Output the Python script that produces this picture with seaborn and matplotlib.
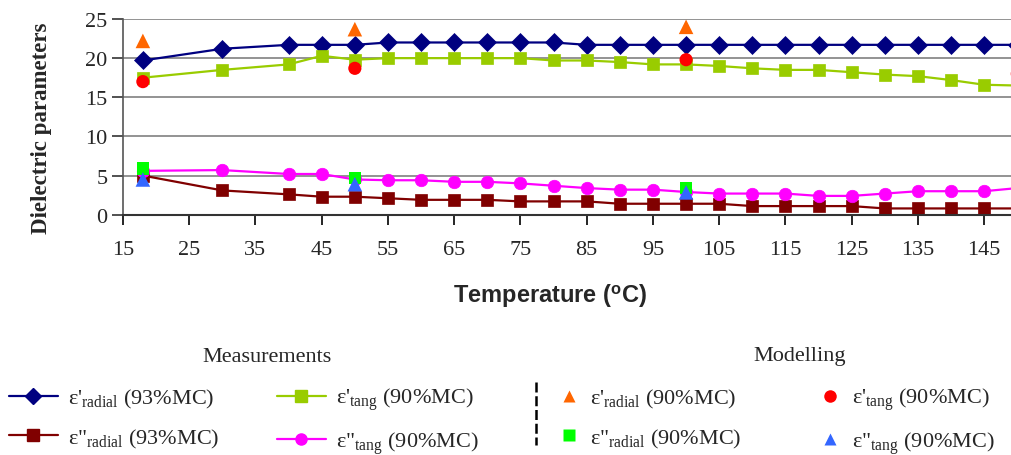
import matplotlib
matplotlib.use("Agg")
import matplotlib.pyplot as plt
from matplotlib.lines import Line2D
import seaborn as sns
import numpy as np

# ---------------- data ----------------
temps_meas = [18, 30, 40, 45, 50, 55, 60, 65, 70, 75, 80, 85, 90, 95, 100,
              105, 110, 115, 120, 125, 130, 135, 140, 145, 150]
eps1_radial_93 = [19.7, 21.2, 21.7, 21.7, 21.7, 22.0, 22.0, 22.0, 22.0, 22.0, 22.0, 21.7, 21.7,
                  21.7, 21.7, 21.7, 21.7, 21.7, 21.7, 21.7, 21.7, 21.7, 21.7, 21.7, 21.7]
eps1_tang_90 = [17.5, 18.5, 19.2, 20.3, 19.8, 20.0, 20.0, 20.0, 20.0, 20.0, 19.7, 19.7, 19.5,
                19.2, 19.2, 19.0, 18.7, 18.5, 18.5, 18.2, 17.9, 17.7, 17.2, 16.6, 16.5]
eps2_radial_93 = [5.0, 3.1, 2.6, 2.3, 2.3, 2.1, 1.9, 1.9, 1.9, 1.7, 1.7, 1.7, 1.4,
                  1.4, 1.4, 1.4, 1.1, 1.1, 1.1, 1.1, 0.8, 0.8, 0.8, 0.8, 0.8]
eps2_tang_90 = [5.6, 5.7, 5.2, 5.2, 4.5, 4.4, 4.4, 4.2, 4.2, 4.0, 3.7, 3.4, 3.2,
                3.2, 2.9, 2.7, 2.7, 2.7, 2.4, 2.4, 2.7, 3.0, 3.0, 3.0, 3.4]

temps_model_a = [18, 50, 100]
temps_model_b = [18, 50, 100, 150]
mod_eps1_radial = [22.2, 23.7, 24.0]
mod_eps1_tang = [17.0, 18.7, 19.8, 18.0]
mod_eps2_radial = [5.9, 4.7, 3.4, 1.9]
mod_eps2_tang = [4.5, 3.9, 2.85]

x_ticks = [15, 25, 35, 45, 55, 65, 75, 85, 95, 105, 115, 125, 135, 145]
y_ticks = [0, 5, 10, 15, 20, 25]

# ---------------- style ----------------
sns.set_theme(style="white")
plt.rcParams["font.family"] = ["Liberation Serif", "DejaVu Serif"]
plt.rcParams["mathtext.fontset"] = "custom"
plt.rcParams["mathtext.rm"] = "Liberation Serif"
plt.rcParams["mathtext.it"] = "Liberation Serif:italic"
plt.rcParams["mathtext.bf"] = "Liberation Sans:bold"
plt.rcParams["mathtext.sf"] = "Liberation Sans"

NAVY = "#000080"
YGREEN = "#99CC00"
DRED = "#800000"
MAGENTA = "#FF00FF"
ORANGE = "#FF6600"
RED = "#FF0000"
GREEN = "#00FF00"
BLUE = "#3366FF"

W, H = 1012, 456
fig = plt.figure(figsize=(W / 100, H / 100), dpi=100)
ax = fig.add_axes([123 / W, 1 - 215.7 / H, (W - 123) / W, (215.7 - 20) / H])

lw = 1.6
sns.lineplot(x=temps_meas, y=eps1_radial_93, ax=ax, color=NAVY, lw=lw, marker="D",
             markersize=9, markeredgecolor=NAVY, markeredgewidth=0.5)
sns.lineplot(x=temps_meas, y=eps1_tang_90, ax=ax, color=YGREEN, lw=lw, marker="s",
             markersize=8.5, markeredgecolor=YGREEN, markeredgewidth=0.5)
sns.lineplot(x=temps_meas, y=eps2_radial_93, ax=ax, color=DRED, lw=lw, marker="s",
             markersize=8.5, markeredgecolor=DRED, markeredgewidth=0.5)
sns.lineplot(x=temps_meas, y=eps2_tang_90, ax=ax, color=MAGENTA, lw=lw, marker="o",
             markersize=9, markeredgecolor=MAGENTA, markeredgewidth=0.5)

sns.scatterplot(x=temps_model_a, y=mod_eps1_radial, ax=ax, color=ORANGE, marker="^",
                s=110, edgecolor="none", zorder=5)
sns.scatterplot(x=temps_model_b, y=mod_eps1_tang, ax=ax, color=RED, marker="o",
                s=90, edgecolor="none", zorder=5)
sns.scatterplot(x=temps_model_b, y=mod_eps2_radial, ax=ax, color=GREEN, marker="s",
                s=80, edgecolor="none", zorder=5)
sns.scatterplot(x=temps_model_a, y=mod_eps2_tang, ax=ax, color=BLUE, marker="^",
                s=110, edgecolor="none", zorder=5)

ax.set_xlim(15, 149.2)
ax.set_ylim(0, 25)
ax.set_xticks(x_ticks)
ax.set_yticks(y_ticks)
ax.set_xticklabels([str(t) for t in x_ticks], fontsize=16)
ax.set_yticklabels([str(t) for t in y_ticks], fontsize=16)
ax.tick_params(axis="x", direction="out", length=7, width=1.2, color="black", pad=11,
               bottom=True)
ax.tick_params(axis="y", direction="out", length=8, width=1.2, color="#333333", pad=3,
               left=True)
ax.grid(axis="y", color="#808080", lw=1.2)
ax.grid(axis="x", visible=False)
for s in ["top", "right"]:
    ax.spines[s].set_visible(False)
ax.spines["left"].set_color("#555555")
ax.spines["left"].set_linewidth(1.2)
ax.spines["bottom"].set_color("#333333")
ax.spines["bottom"].set_linewidth(1.5)
ax.spines["bottom"].set_zorder(4)
ax.set_axisbelow(True)

ax.set_ylabel("Dielectric parameters", fontsize=16.5, fontweight="bold")
ax.yaxis.set_label_coords(-0.08, 0.445)
ax.set_xlabel(r"Temperature ($^{\mathbf{o}}$C)", fontsize=17, fontweight="bold",
              family=["Liberation Sans", "DejaVu Sans"])
ax.xaxis.set_label_coords(0.48, -0.34)
ax.xaxis.label.set_va("top")

# ---------------- legends ----------------
lab_r1 = "ε'" + r"$_{\mathrm{radial}}$" + " (93%MC)"
lab_t1 = "ε'" + r"$_{\mathrm{tang}}$" + " (90%MC)"
lab_r2 = 'ε"' + r"$_{\mathrm{radial}}$" + " (93%MC)"
lab_t2 = 'ε"' + r"$_{\mathrm{tang}}$" + " (90%MC)"
lab_mr1 = "ε'" + r"$_{\mathrm{radial}}$" + " (90%MC)"
lab_mr2 = 'ε"' + r"$_{\mathrm{radial}}$" + " (90%MC)"

h_meas = [
    Line2D([], [], color=NAVY, lw=lw, marker="D", markersize=8, markeredgecolor=NAVY),
    Line2D([], [], color=DRED, lw=lw, marker="s", markersize=8, markeredgecolor=DRED),
    Line2D([], [], color=YGREEN, lw=lw, marker="s", markersize=8, markeredgecolor=YGREEN),
    Line2D([], [], color=MAGENTA, lw=lw, marker="o", markersize=8, markeredgecolor=MAGENTA),
]
l_meas = [lab_r1, lab_r2, lab_t1, lab_t2]
h_mod = [
    Line2D([], [], ls="none", color=ORANGE, marker="^", markersize=9, markeredgecolor="none"),
    Line2D([], [], ls="none", color=GREEN, marker="s", markersize=8, markeredgecolor="none"),
    Line2D([], [], ls="none", color=RED, marker="o", markersize=9, markeredgecolor="none"),
    Line2D([], [], ls="none", color=BLUE, marker="^", markersize=9, markeredgecolor="none"),
]
l_mod = [lab_mr1, lab_mr2, lab_t1, lab_t2]

leg1 = fig.legend(h_meas, l_meas, ncol=2, frameon=False,
                  loc="upper left", bbox_to_anchor=(0.0, 1 - 378 / H),
                  fontsize=16, handlelength=2.2, handletextpad=0.45,
                  columnspacing=2.6, labelspacing=0.75, borderaxespad=0)
leg2 = fig.legend(h_mod, l_mod, ncol=2, frameon=False,
                  loc="upper left", bbox_to_anchor=(549 / W, 1 - 378 / H),
                  fontsize=16, handlelength=1.0, handletextpad=0.45,
                  columnspacing=3.5, labelspacing=0.75, borderaxespad=0)

# group titles
fig.text(267 / W, 1 - 357 / H, "Measurements", ha="center", va="center", fontsize=16)
fig.text(800 / W, 1 - 357 / H, "Modelling", ha="center", va="center", fontsize=16)

# small artefact marks left of the modelling legend
fig.add_artist(Line2D([536 / W, 536 / W], [1 - 383 / H, 1 - 446 / H], color="black",
                      lw=1.8, ls=(0, (4, 1.5)), transform=fig.transFigure))

fig.savefig("out.png", dpi=100)
